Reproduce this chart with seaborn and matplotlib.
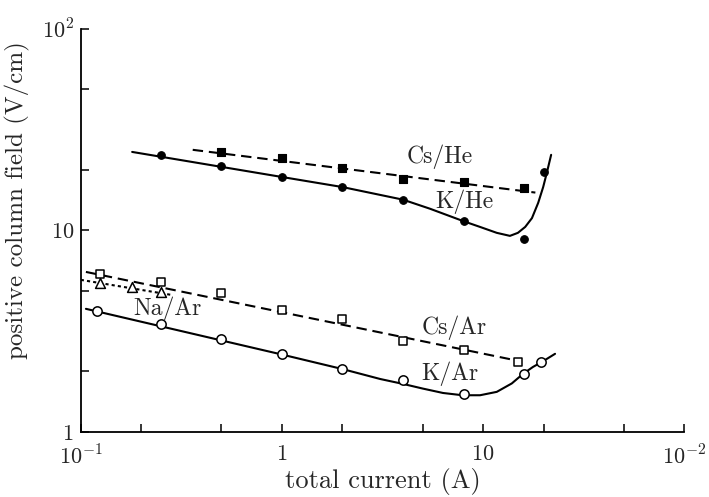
import numpy as np
import pandas as pd
import matplotlib
matplotlib.use('Agg')
import matplotlib.pyplot as plt
import seaborn as sns

khe_x = [0.25, 0.5, 1, 2, 4, 8, 16, 20]
khe_y = [23.7, 20.9, 18.4, 16.4, 14.2, 11.1, 9.1, 19.5]
cshe_x = [0.5, 1, 2, 4, 8, 16]
cshe_y = [24.5, 22.9, 20.4, 18.0, 17.4, 16.3]
csar_x = [0.125, 0.25, 0.5, 1, 2, 4, 8, 15]
csar_y = [6.09, 5.55, 4.89, 4.03, 3.64, 2.83, 2.55, 2.23]
naar_x = [0.125, 0.18, 0.25]
naar_y = [5.49, 5.24, 4.95]
kar_x = [0.12, 0.25, 0.5, 1, 2, 4, 8, 16, 19.5]
kar_y = [3.99, 3.44, 2.89, 2.44, 2.05, 1.81, 1.54, 1.94, 2.23]

# drawn curves
khe_cx = [0.18, 1, 2, 4, 5.45, 8, 9.66, 11.7, 13.6, 14.9, 16.2, 17.5, 18.8, 19.9, 20.8, 21.8]
khe_cy = [24.5, 18.4, 16.4, 14.2, 12.8, 11.1, 10.4, 9.72, 9.39, 9.72, 10.4, 11.5, 13.7, 16.4, 19.5, 23.7]
cshe_cx = [0.36, 18.2]
cshe_cy = [25.1, 15.4]
csar_cx = [0.106, 15.0]
csar_cy = [6.22, 2.25]
naar_cx = [0.1, 0.28]
naar_cy = [5.68, 4.79]
kar_cx = [0.106, 1, 2, 3.08, 4.0, 5.02, 6.32, 7.9, 9.66, 11.7, 13.9, 15.8, 17.7, 19.7, 22.8]
kar_cy = [4.08, 2.42, 2.05, 1.83, 1.73, 1.64, 1.56, 1.52, 1.52, 1.58, 1.74, 1.94, 2.10, 2.23, 2.44]

labels = ['Cs/He', 'K/He', 'Cs/Ar', 'K/Ar', 'Na/Ar']
label_x = [6.1, 8.1, 7.2, 6.8, 0.271]
label_y = [23.2, 13.8, 3.28, 1.94, 4.08]

sns.set_style('ticks')
plt.rcParams['mathtext.fontset'] = 'cm'
plt.rcParams['font.family'] = ['cmr10', 'DejaVu Serif']
plt.rcParams['axes.unicode_minus'] = False

fig = plt.figure(figsize=(7.09, 4.97), dpi=100)
ax = fig.add_axes([0.114, 0.131, 0.851, 0.811])

def curve(x, y, ls):
    sns.lineplot(x=x, y=y, ax=ax, color='black', lw=1.5, sort=False,
                 estimator=None, linestyle=ls)

curve(khe_cx, khe_cy, '-')
curve(cshe_cx, cshe_cy, (0, (5, 2.8)))
curve(csar_cx, csar_cy, (0, (5, 2.8)))
curve(naar_cx, naar_cy, (0, (1.5, 1.5)))
curve(kar_cx, kar_cy, '-')

sns.scatterplot(x=khe_x, y=khe_y, ax=ax, marker='o', s=30, color='black',
                edgecolor='black', linewidth=0.8, zorder=3)
sns.scatterplot(x=cshe_x, y=cshe_y, ax=ax, marker='s', s=28, color='black',
                edgecolor='black', linewidth=0.8, zorder=3)
sns.scatterplot(x=csar_x, y=csar_y, ax=ax, marker='s', s=38, color='white',
                edgecolor='black', linewidth=1.1, zorder=3)
sns.scatterplot(x=naar_x, y=naar_y, ax=ax, marker='^', s=50, color='white',
                edgecolor='black', linewidth=1.1, zorder=3)
sns.scatterplot(x=kar_x, y=kar_y, ax=ax, marker='o', s=45, color='white',
                edgecolor='black', linewidth=1.1, zorder=3)

for t, x, y in zip(labels, label_x, label_y):
    ax.text(x, y, t, fontsize=17, ha='center', va='center')

ax.set_xscale('log')
ax.set_yscale('log')
ax.set_xlim(0.1, 100)
ax.set_ylim(1, 100)
ax.set_xticks([0.1, 1, 10, 100])
ax.set_xticklabels([r'$10^{-1}$', r'$1$', r'$10$', r'$10^{-2}$'])
ax.set_yticks([1, 10, 100])
ax.set_yticklabels([r'$1$', r'$10$', r'$10^{2}$'])
ax.set_xticks([0.2, 0.5, 2, 5, 20, 50], minor=True)
ax.set_yticks([2, 5, 20, 50], minor=True)
ax.xaxis.set_minor_formatter(matplotlib.ticker.NullFormatter())
ax.yaxis.set_minor_formatter(matplotlib.ticker.NullFormatter())
ax.tick_params(which='both', direction='in', length=6, width=1.1,
               labelsize=16, color='black')
ax.tick_params(axis='x', pad=9)
ax.tick_params(axis='y', pad=5)

sns.despine(ax=ax)
for s in ['left', 'bottom']:
    ax.spines[s].set_linewidth(1.3)
    ax.spines[s].set_color('black')

ax.set_xlabel('total current (A)', fontsize=19, labelpad=0)
ax.set_ylabel('positive column field (V/cm)', fontsize=18)
ax.yaxis.set_label_coords(-0.085, 0.576)

fig.savefig('out.png', dpi=100)
